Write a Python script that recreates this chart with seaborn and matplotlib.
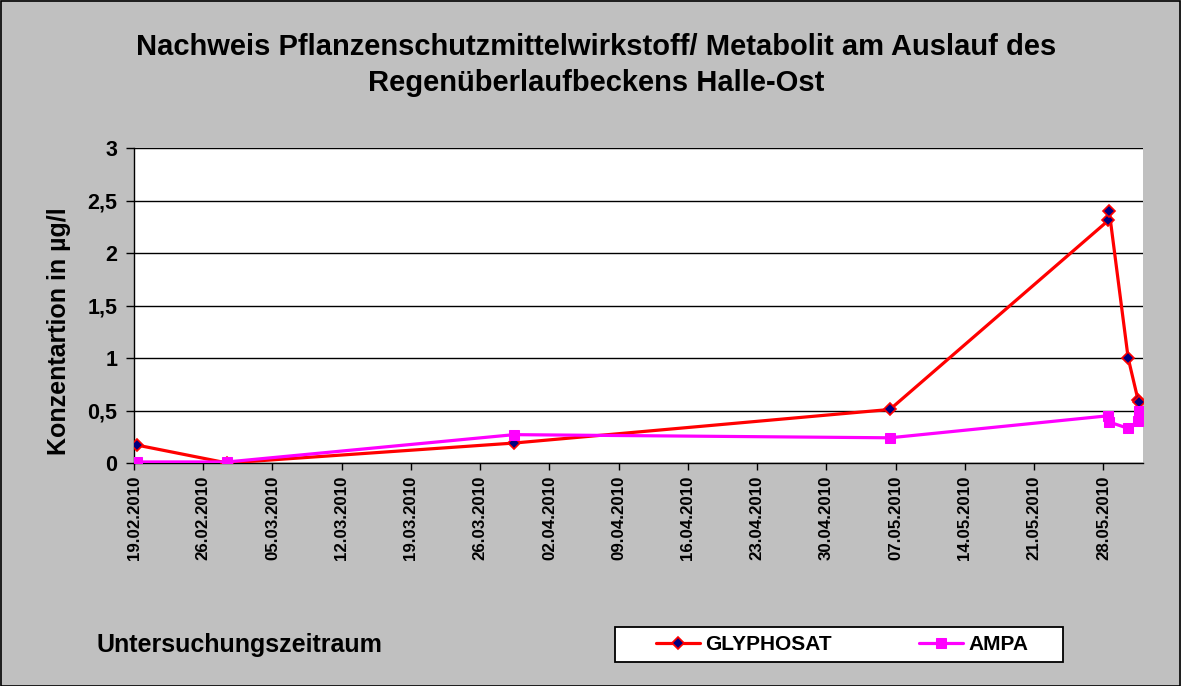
import matplotlib
matplotlib.use("Agg")
import matplotlib.pyplot as plt
import seaborn as sns
import pandas as pd
from matplotlib.patches import Rectangle

# ---- data ----
glyphosat_dates = ["2010-02-19 08:00", "2010-02-28 10:00", "2010-03-29 10:00",
                   "2010-05-06 10:00", "2010-05-28 12:00", "2010-05-28 14:00",
                   "2010-05-30 12:00", "2010-05-31 12:00", "2010-05-31 14:00"]
glyphosat_values = [0.17, 0.0, 0.19, 0.51, 2.31, 2.40, 1.00, 0.60, 0.58]

ampa_dates = ["2010-02-19 08:00", "2010-02-28 10:00", "2010-03-29 10:00",
              "2010-05-06 10:00", "2010-05-28 12:00", "2010-05-28 14:00",
              "2010-05-30 12:00", "2010-05-31 12:00", "2010-05-31 14:00"]
ampa_values = [0.01, 0.01, 0.27, 0.24, 0.45, 0.39, 0.33, 0.40, 0.50]

title = "Nachweis Pflanzenschutzmittelwirkstoff/ Metabolit am Auslauf des\nRegenüberlaufbeckens Halle-Ost"
ylabel = "Konzentartion in µg/l"
xlabel = "Untersuchungszeitraum"
yticks = [0, 0.5, 1, 1.5, 2, 2.5, 3]
ytick_labels = ["0", "0,5", "1", "1,5", "2", "2,5", "3"]
xtick_dates = ["19.02.2010", "26.02.2010", "05.03.2010", "12.03.2010", "19.03.2010",
               "26.03.2010", "02.04.2010", "09.04.2010", "16.04.2010", "23.04.2010",
               "30.04.2010", "07.05.2010", "14.05.2010", "21.05.2010", "28.05.2010"]

sns.set_theme(style="white")
plt.rcParams['font.family'] = ['Liberation Sans', 'DejaVu Sans']
plt.rcParams['font.weight'] = 'bold'
plt.rcParams['text.color'] = 'black'
plt.rcParams['axes.labelcolor'] = 'black'
plt.rcParams['xtick.color'] = 'black'
plt.rcParams['ytick.color'] = 'black'

W, H = 1181, 686
fig = plt.figure(figsize=(W / 100, H / 100), dpi=100)
fig.patch.set_facecolor("#C0C0C0")
fig.patches.append(Rectangle((0.5 / W, 0.5 / H), 1 - 1.5 / W, 1 - 1.5 / H,
                             transform=fig.transFigure, fill=False,
                             edgecolor="black", linewidth=1.2, zorder=-1))

L, R, T, B = 134, 1143, 148, 463
ax = fig.add_axes([L / W, (H - B) / H, (R - L) / W, (B - T) / H])
ax.set_facecolor("white")

gdf = pd.DataFrame({"date": pd.to_datetime(glyphosat_dates), "value": glyphosat_values})
adf = pd.DataFrame({"date": pd.to_datetime(ampa_dates), "value": ampa_values})

sns.lineplot(data=gdf, x="date", y="value", ax=ax, sort=False, color="#FF0000",
             linewidth=2.3, marker="D", markersize=6, markerfacecolor="#000080",
             markeredgecolor="#FF0000", markeredgewidth=1.2, label="GLYPHOSAT",
             zorder=3)
sns.lineplot(data=adf, x="date", y="value", ax=ax, sort=False, color="#FF00FF",
             linewidth=2.3, marker="s", markersize=7, markerfacecolor="#FF00FF",
             markeredgecolor="#FF00FF", label="AMPA", zorder=4)

ax.set_ylim(0, 3)
ax.set_xlim(pd.Timestamp("2010-02-19"), pd.Timestamp("2010-06-01"))
ax.set_yticks(yticks, labels=ytick_labels, fontsize=15.5, fontweight="bold")
ax.set_xticks(pd.to_datetime(xtick_dates, format="%d.%m.%Y"), labels=xtick_dates,
              rotation=90, fontsize=12.2, fontweight="bold")
ax.tick_params(axis="x", direction="out", length=5, width=1,
               colors="black", pad=4, bottom=True)
ax.tick_params(axis="y", direction="out", length=6, width=1,
               colors="black", pad=6, left=True)

ax.grid(axis="y", color="black", linewidth=1)
ax.grid(axis="x", visible=False)
ax.set_axisbelow(True)
for s in ["top", "right"]:
    ax.spines[s].set_visible(False)
for s in ["left", "bottom"]:
    ax.spines[s].set_color("black")
    ax.spines[s].set_linewidth(1)

ax.set_xlabel("")
ax.set_ylabel("")
fig.text(59 / W, 1 - 331 / H, ylabel, rotation=90, ha="center", va="center",
         fontsize=18, fontweight="bold", color="black")

fig.text(596 / W, 1 - 65 / H, title, ha="center", va="center", fontsize=21,
         fontweight="bold", linespacing=1.4, color="black")
fig.text(97 / W, 1 - 645 / H, xlabel, ha="left", va="center", fontsize=18,
         fontweight="bold", color="black")

# legend box (behind the legend entries)
fig.patches.append(Rectangle((615 / W, 1 - 662 / H), (1063 - 615) / W, 35 / H,
                             transform=fig.transFigure, facecolor="white",
                             edgecolor="black", linewidth=1.3, zorder=-1))
leg = fig.legend(*ax.get_legend_handles_labels(), loc="center",
                 bbox_to_anchor=(842 / W, 1 - 645 / H),
                 ncol=2, frameon=False, columnspacing=4.2,
                 handlelength=2.1, handletextpad=0.25, borderpad=0.2,
                 prop={"weight": "bold", "size": 15})
ax.get_legend().remove()
for t in leg.get_texts():
    t.set_color("black")

fig.savefig("out.png", dpi=100, facecolor=fig.get_facecolor())
